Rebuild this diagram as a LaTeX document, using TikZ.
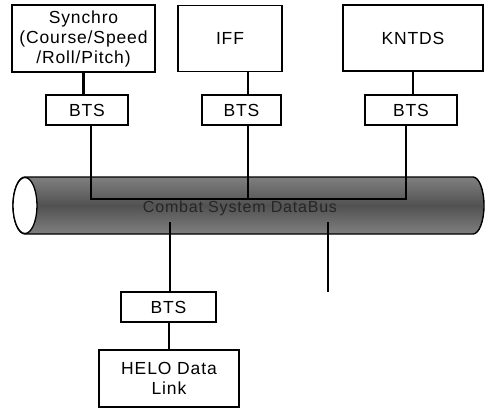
\documentclass[tikz,border=0pt]{standalone}
\usepackage{fontspec}
\setmainfont{Liberation Sans}[LetterSpace=5.0]
\begin{document}
\begin{tikzpicture}[x=1pt,y=-1pt,
  box/.style={draw=black,line width=1.1pt,inner sep=0pt,align=center,
    font=\fontsize{17.5}{20}\selectfont},
  btsbox/.style={box,minimum height=30pt},
  heavy/.style={line width=2.6pt},
  thinline/.style={line width=1.2pt}]
\useasboundingbox (0,0) rectangle (485,410);
% tube
\path[top color=black!50,bottom color=black!50,middle color=black!68,draw=black,line width=1.4pt]
  (25,177) -- (473,177) arc[start angle=-90,end angle=90,x radius=11,y radius=28.5]
  -- (25,234) arc[start angle=90,end angle=270,x radius=12,y radius=28.5] -- cycle;
\draw[line width=1.3pt,fill=white] (25,205.5) ellipse[x radius=12,y radius=28];
\node[font=\fontsize{16}{18}\selectfont,text=black!85] (busname) at (240,208) {Combat System DataBus};
% top boxes
\node[box,minimum width=143pt,minimum height=67pt] (syn) at (83.5,38.5) {Synchro\\(Course/Speed\\/Roll/Pitch)};
\node[box,minimum width=104pt,minimum height=66pt] (iff) at (230,38.5) {IFF};
\node[box,minimum width=140pt,minimum height=66pt] (knt) at (413,38) {KNTDS};
\node[btsbox,minimum width=82pt] (b1) at (87,110) {BTS};
\node[btsbox,minimum width=79pt] (b2) at (241.5,110) {BTS};
\node[btsbox,minimum width=92pt] (b3) at (411,110) {BTS};
\node[btsbox,minimum width=95pt] (b4) at (168.5,307) {BTS};
\node[box,minimum width=140pt,minimum height=57pt] (helo) at (169,378.5) {HELO Data\\Link};
% bus taps
\coordinate (t1) at (91,199);
\coordinate (t2) at (248,199);
\coordinate (t3) at (406,199);
\coordinate (t4) at (170,222);
\coordinate (t5) at (328,222);
\coordinate (e5) at (328,292);
% connectors
\draw[heavy] (syn.south) -- (syn.south |- b1.north);
\draw[heavy] (iff.south -| t2) -- (b2.north -| t2);
\draw[heavy] (knt.south) -- (knt.south |- b3.north);
\draw[heavy] (b4.south -| helo.north) -- (helo.north);
\draw[thinline] (b1.south -| t1) -- (t1) -- (t3) -- (b3.south -| t3);
\draw[thinline] (b2.south -| t2) -- (t2);
\draw[thinline] (t4) -- (b4.north -| t4);
\draw[thinline] (t5) -- (e5);
\end{tikzpicture}
\end{document}
